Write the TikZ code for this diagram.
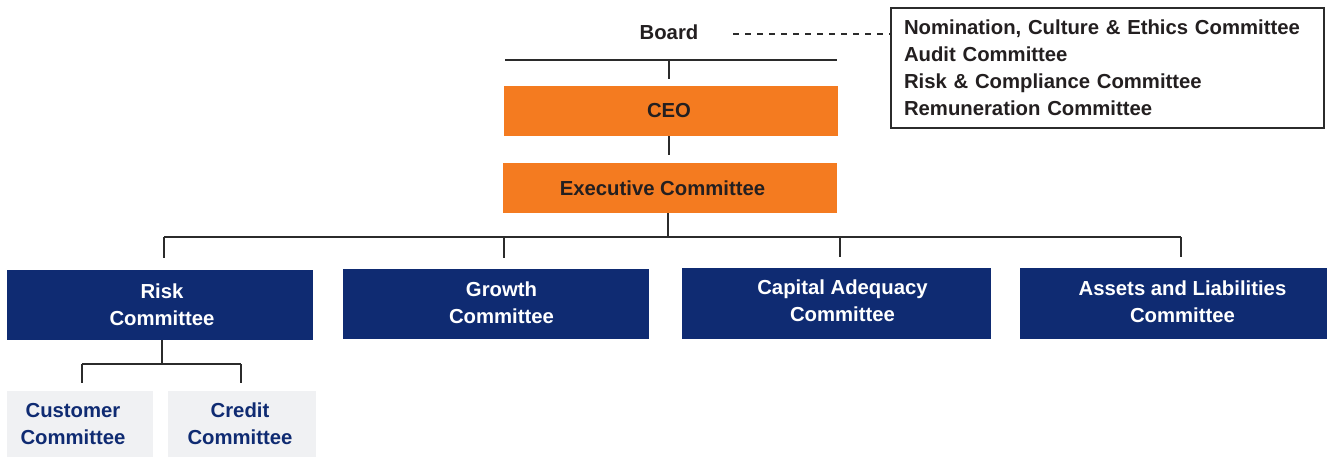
\documentclass[tikz,border=0pt]{standalone}
\usepackage{fontspec}
\setmainfont{Liberation Sans}
\definecolor{orgfill}{HTML}{F47B20}
\definecolor{navyfill}{HTML}{0F2B72}
\definecolor{greyfill}{HTML}{F0F1F3}
\definecolor{inkdark}{HTML}{231F20}
\definecolor{linedark}{HTML}{2B2B2B}
\begin{document}
\begin{tikzpicture}[x=1pt,y=-1pt,
  every node/.style={font=\bfseries\fontsize{20.3}{27}\selectfont, inner sep=0pt, text=inkdark},
  orangebox/.style={fill=orgfill, minimum width=334, minimum height=50},
  navybox/.style={fill=navyfill, minimum height=70},
  greybox/.style={fill=greyfill, minimum height=66},
  whitetext/.style={text=white, align=center},
  navytext/.style={text=navyfill, align=center},
  conn/.style={draw=linedark, line width=1.8pt},
  listbox/.style={draw=linedark, line width=1.6pt, fill=white, align=left,
    text width=407, inner xsep=13, minimum width=433, minimum height=120}
]
\useasboundingbox (0,0) rectangle (1327,457);

% board and its committees
\node (board) at (669,32) {Board};
\node[listbox] (cmte) at (1107.5,68) {Nomination, Culture \& Ethics Committee\\
  Audit Committee\\ Risk \& Compliance Committee\\ Remuneration Committee};
\coordinate (dashS) at (733,34);
\draw[conn, line width=1.3pt, dash pattern=on 6pt off 6pt]
  (dashS) -- (dashS -| cmte.west);

% executive line
\node[orangebox] (ceo) at (670.5,111) {};
\node (ceo-t) at ([xshift=-1.5]ceo.center) {CEO};
\node[orangebox] (exec) at (670,188) {};
\node (exec-t) at ([xshift=-7.5]exec.center) {Executive Committee};

% management committees
\node[navybox, minimum width=306] (risk) at (160,304.5) {};
\node[whitetext] (risk-t) at ([xshift=2]risk.center) {Risk\\Committee};
\node[navybox, minimum width=306] (growth) at (496,304) {};
\node[whitetext] (growth-t) at ([xshift=5.5,yshift=1.5]growth.center) {Growth\\Committee};
\node[navybox, minimum width=309, minimum height=71] (capital) at (836.5,303.5) {};
\node[whitetext] (capital-t) at ([xshift=6,yshift=3]capital.center) {Capital Adequacy\\Committee};
\node[navybox, minimum width=307, minimum height=71] (assets) at (1173.5,303.5) {};
\node[whitetext] (assets-t) at ([xshift=9,yshift=2]assets.center) {Assets and Liabilities\\Committee};

% sub-committees of risk
\node[greybox, minimum width=146] (customer) at (80,424) {};
\node[navytext] (customer-t) at ([xshift=-7]customer.center) {Customer\\Committee};
\node[greybox, minimum width=148] (credit) at (242,424) {};
\node[navytext] (credit-t) at ([xshift=-2]credit.center) {Credit\\Committee};

% board bar down to CEO
\coordinate (barL) at (505,60);
\coordinate (barR) at (837,60);
\coordinate (barM) at (669,60);
\draw[conn] (barL) -- (barR);
\draw[conn, shorten >=7pt] (barM) -- (barM |- ceo.north);

% CEO to executive committee
\draw[conn, shorten >=8pt] ([xshift=-1.5]ceo.south) -- ([xshift=-1.5]ceo.south |- exec.north);

% executive committee to the four committees
\coordinate (busL) at (164,237);
\coordinate (busG) at (504,237);
\coordinate (busC) at (840,237);
\coordinate (busR) at (1181,237);
\draw[conn] ([xshift=-2]exec.south) -- ([xshift=-2]exec.south |- busL);
\draw[conn] (busL) -- (busR);
\draw[conn, shorten >=11pt] (busL) -- (busL |- risk.north);
\draw[conn, shorten >=11pt] (busG) -- (busG |- growth.north);
\draw[conn, shorten >=11pt] (busC) -- (busC |- capital.north);
\draw[conn, shorten >=11pt] (busR) -- (busR |- assets.north);

% risk committee to its sub-committees
\coordinate (subL) at (82,364);
\coordinate (subR) at (241,364);
\draw[conn] ([xshift=2]risk.south) -- ([xshift=2]risk.south |- subL);
\draw[conn] (subL) -- (subR);
\draw[conn, shorten >=8pt] (subL) -- (subL |- customer.north);
\draw[conn, shorten >=8pt] (subR) -- (subR |- credit.north);
\end{tikzpicture}
\end{document}
